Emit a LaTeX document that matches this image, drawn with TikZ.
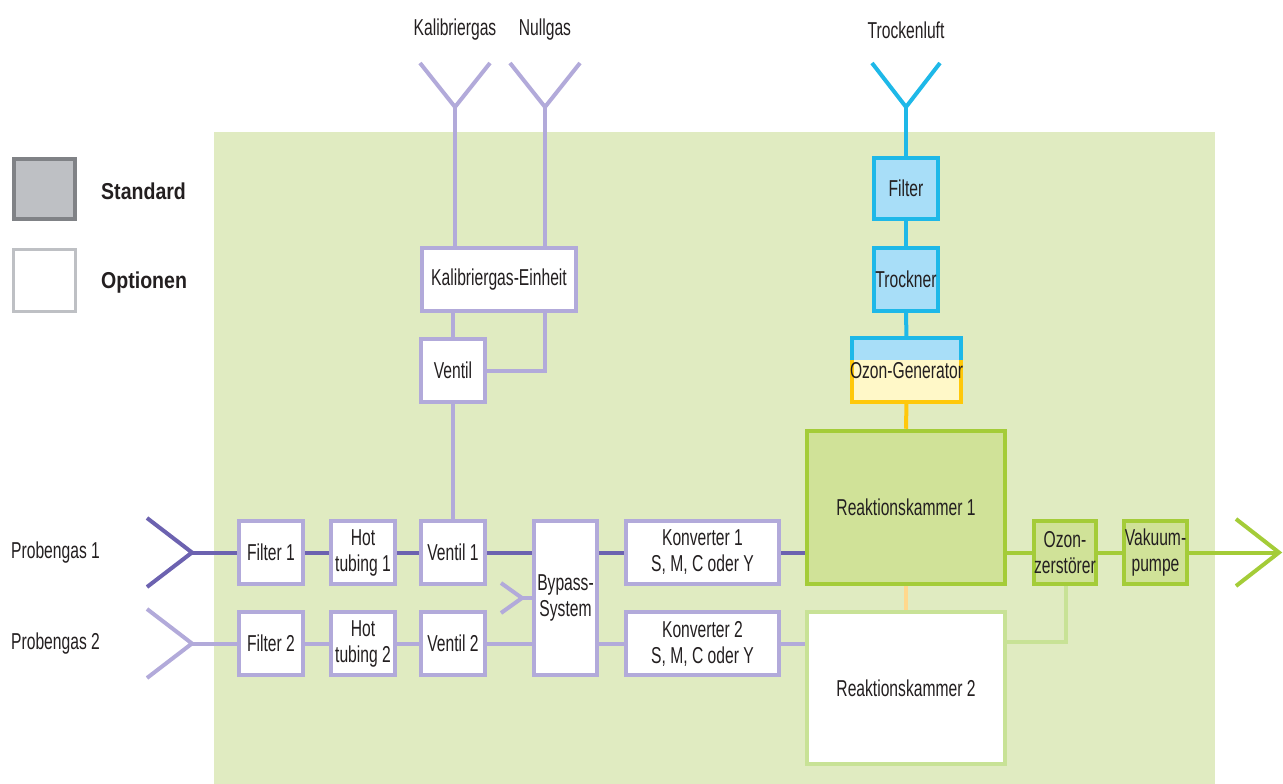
\documentclass[tikz,border=0pt]{standalone}
\usepackage{fontspec}
\setmainfont[FakeStretch=0.68]{Liberation Sans}
\newfontfamily\legendfont[FakeStretch=0.85]{Liberation Sans}
\usetikzlibrary{calc}
\pgfdeclarelayer{back}
\pgfdeclarelayer{bg}
\pgfsetlayers{back,bg,main}
\definecolor{txt}{RGB}{35,31,32}
\definecolor{lav}{RGB}{178,170,218}
\definecolor{dpur}{RGB}{108,98,176}
\definecolor{cblue}{RGB}{30,184,232}
\definecolor{lblue}{RGB}{168,222,248}
\definecolor{yelb}{RGB}{255,200,10}
\definecolor{yelf}{RGB}{255,248,200}
\definecolor{grn}{RGB}{164,204,56}
\definecolor{grnf}{RGB}{208,226,152}
\definecolor{lgrn}{RGB}{200,226,150}
\definecolor{lorange}{RGB}{255,216,140}
\definecolor{bggreen}{RGB}{224,235,193}
\definecolor{stdfill}{RGB}{190,192,196}
\definecolor{stdborder}{RGB}{128,130,134}
\tikzset{
  lbl/.style={text=txt, font=\fontsize{23}{26}\selectfont, inner sep=0pt, align=center},
  optbox/.style={lbl, draw=lav, fill=white, line width=4pt},
  bluebox/.style={lbl, draw=cblue, fill=lblue, line width=4pt},
  grnbox/.style={lbl, draw=grn, fill=grnf, line width=4.5pt},
  rk2box/.style={lbl, draw=lgrn, fill=white, line width=4pt},
  lavline/.style={draw=lav, line width=4pt},
  dline/.style={draw=dpur, line width=4pt},
  bline/.style={draw=cblue, line width=4pt},
  gline/.style={draw=grn, line width=4pt},
  lgline/.style={draw=lgrn, line width=4pt},
  legtxt/.style={anchor=west, text=txt, inner sep=0pt, font=\legendfont\bfseries\fontsize{23}{26}\selectfont},
}
\begin{document}
\begin{tikzpicture}[x=1pt,y=-1pt]
\useasboundingbox (0,0) rectangle (1283,784);
\begin{pgfonlayer}{back}
  \fill[bggreen] (214,132) rectangle (1215,784);
\end{pgfonlayer}

% legend
\node[draw=stdborder, fill=stdfill, line width=4.5pt, minimum width=61, minimum height=60, inner sep=0pt] (lstd) at (44.5,189) {};
\node[draw=stdfill, fill=white, line width=3.5pt, minimum width=62, minimum height=62, inner sep=0pt] (lopt) at (44.5,280.5) {};
\node[legtxt] (tstd) at (101,191) {Standard};
\node[legtxt] (topt) at (101,283) {Optionen};

% top labels
\node[lbl] (tkal) at (455,30) {Kalibriergas};
\node[lbl] (tnull) at (545,30) {Nullgas};
\node[lbl] (ttro) at (906,30) {Trockenluft};

% calibration
\node[optbox, minimum width=154, minimum height=63] (ke) at (499,279.5) {Kalibriergas-Einheit};
\node[optbox, minimum width=64, minimum height=63] (ve) at (453,370.5) {Ventil};

% row 1
\node[lbl, anchor=west] (tp1) at (11,552.5) {Probengas 1};
\node[optbox, minimum width=64, minimum height=63] (f1) at (271,552.5) {Filter 1};
\node[optbox, minimum width=64, minimum height=63] (h1) at (363,552.5) {Hot\\tubing 1};
\node[optbox, minimum width=64, minimum height=63] (v1) at (453,552.5) {Ventil 1};
\node[optbox, minimum width=63, minimum height=154] (bp) at (565.5,598) {Bypass-\\System};
\node[optbox, minimum width=153, minimum height=63] (k1) at (702.5,552.5) {Konverter 1\\S, M, C oder Y};
\node[grnbox, minimum width=198, minimum height=153] (rk1) at (906,507.5) {Reaktionskammer 1};
\node[grnbox, minimum width=62, minimum height=63] (oz) at (1065,552.5) {Ozon-\\zerstörer};
\node[grnbox, minimum width=63, minimum height=63] (vp) at (1155.5,552.5) {Vakuum-\\pumpe};

% row 2
\node[lbl, anchor=west] (tp2) at (11,643.5) {Probengas 2};
\node[optbox, minimum width=64, minimum height=63] (f2) at (271,643.5) {Filter 2};
\node[optbox, minimum width=64, minimum height=63] (h2) at (363,643.5) {Hot\\tubing 2};
\node[optbox, minimum width=64, minimum height=63] (v2) at (453,643.5) {Ventil 2};
\node[optbox, minimum width=153, minimum height=63] (k2) at (702.5,643.5) {Konverter 2\\S, M, C oder Y};
\node[rk2box, minimum width=198, minimum height=152] (rk2) at (906,688) {Reaktionskammer 2};

% dry air path
\node[bluebox, minimum width=64, minimum height=61] (fb) at (906,188.5) {Filter};
\node[bluebox, minimum width=64, minimum height=63] (tr) at (906,279.5) {Trockner};
\node[inner sep=0pt, minimum width=109, minimum height=64] (og) at (906.5,370) {};
\begin{pgfonlayer}{bg}
  \fill[lblue] (og.north west) rectangle ($(og.north east)+(0,22)$);
  \fill[yelf] ($(og.north west)+(0,22)$) rectangle (og.south east);
  \draw[yelb, line width=4pt] ($(og.north west)+(0,22)$) -- (og.south west) -- (og.south east) -- ($(og.north east)+(0,22)$);
  \draw[cblue, line width=4pt] ($(og.north west)+(0,22)$) -- (og.north west) -- (og.north east) -- ($(og.north east)+(0,22)$);
\end{pgfonlayer}
\node[lbl] (ogt) at (906.5,371) {Ozon-Generator};

% inlet/outlet coordinates
\coordinate (ykal) at (455,107);
\coordinate (ynull) at (545,107);
\coordinate (ytro) at (906,107);
\coordinate (yp1) at (192,552.5);
\coordinate (yp2) at (192,643.5);
\coordinate (ybp) at (522,598);
\coordinate (yout) at (1279,552.5);
\coordinate (nullknee) at (545,370.5);
\coordinate (ozknee) at (1066,641.5);

\begin{pgfonlayer}{bg}
  % Y inlets
  \draw[lavline] (420,63) -- (ykal) -- (490,63);
  \draw[lavline] (510,63) -- (ynull) -- (580,63);
  \draw[bline] (872,63) -- (ytro) -- (940,63);
  \draw[dline] (147,518) -- (yp1) -- (147,587);
  \draw[lavline] (147,609) -- (yp2) -- (147,678);
  \draw[lavline] (501,583) -- (ybp) -- (501,613);
  \draw[gline] (1236,519) -- (yout) -- (1236,586);
  % calibration lines
  \draw[lavline] (ykal) -- (ykal |- ke.north);
  \draw[lavline] (ynull) -- (ynull |- ke.north);
  \draw[lavline] (ke.south -| ve.north) -- (ve.north);
  \draw[lavline] (ke.south -| nullknee) -- (nullknee) -- (ve.east);
  \draw[lavline] (ve.south) -- (v1.north);
  % row 1
  \draw[dline] (yp1) -- (f1.west);
  \draw[dline] (f1.east) -- (h1.west);
  \draw[dline] (h1.east) -- (v1.west);
  \draw[dline] (v1.east) -- (v1.east -| bp.west);
  \draw[dline] (k1.west -| bp.east) -- (k1.west);
  \draw[dline] (k1.east) -- (k1.east -| rk1.west);
  \draw[lavline] (ybp) -- (ybp -| bp.west);
  % row 2
  \draw[lavline] (yp2) -- (f2.west);
  \draw[lavline] (f2.east) -- (h2.west);
  \draw[lavline] (h2.east) -- (v2.west);
  \draw[lavline] (v2.east) -- (v2.east -| bp.west);
  \draw[lavline] (k2.west -| bp.east) -- (k2.west);
  \draw[lavline] (k2.east) -- (k2.east -| rk2.west);
  % reaction chambers and exhaust
  \draw[gline] (oz.west -| rk1.east) -- (oz.west);
  \draw[gline] (oz.east) -- (vp.west);
  \draw[gline] (vp.east) -- (yout);
  \draw[lgline] (ozknee -| rk2.east) -- (ozknee) -- (oz.south -| ozknee);
  \draw[draw=lorange, line width=4pt] (rk1.south) -- (rk2.north);
  % dry air / ozone
  \draw[bline] (ytro) -- (fb.north);
  \draw[bline] (fb.south) -- (tr.north);
  \draw[bline] (tr.south) -- (og.north);
  \draw[draw=yelb, line width=4pt] (og.south) -- (rk1.north);
\end{pgfonlayer}
\end{tikzpicture}
\end{document}
